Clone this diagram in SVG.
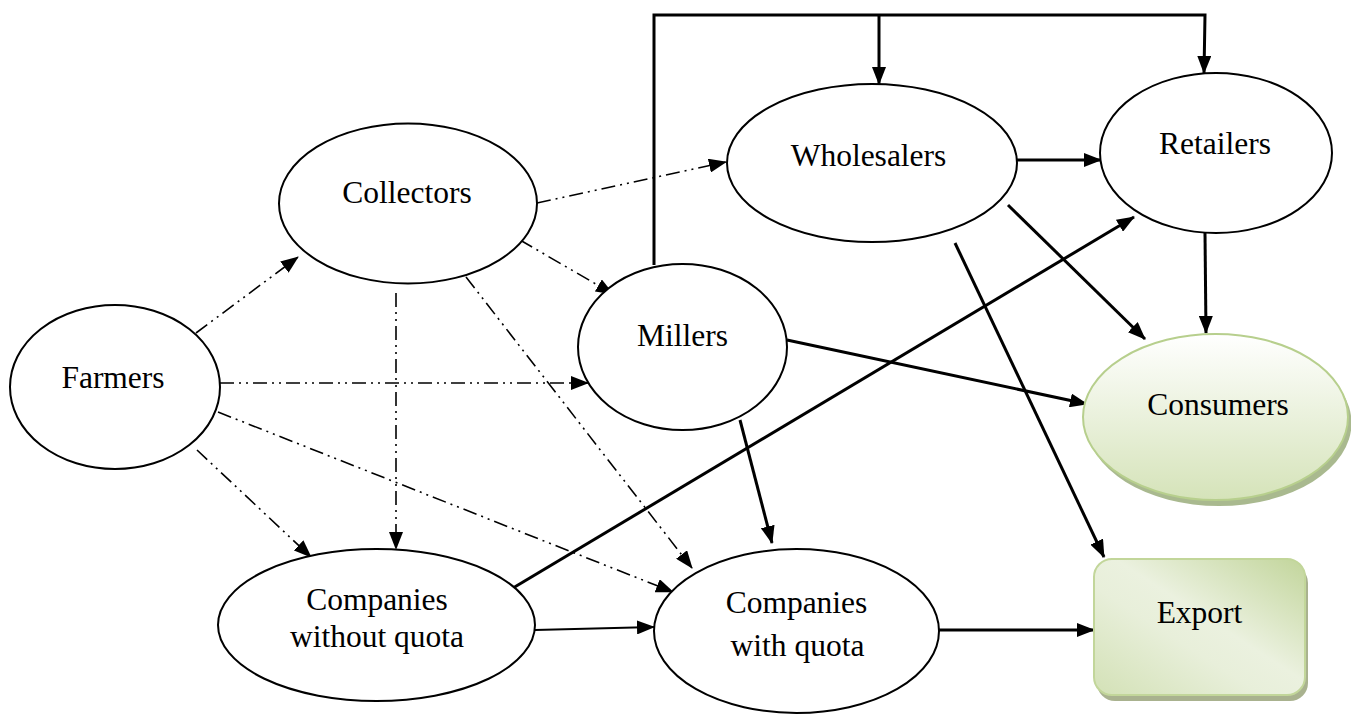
<svg xmlns="http://www.w3.org/2000/svg" width="1351" height="715" viewBox="0 0 1351 715">
  <style>
    .node { fill: #ffffff; stroke: #000000; stroke-width: 2; }
    .label { font-family: "Liberation Serif", "Times New Roman", serif; font-size: 31.5px; fill: #000000; text-anchor: middle; }
    .solid { fill: none; stroke: #000000; stroke-width: 3; }
    .thin { fill: none; stroke: #000000; stroke-width: 2; }
    .dash { fill: none; stroke: #000000; stroke-width: 1.6; stroke-dasharray: 14 5 2 5 2 5; }
  </style>
  <defs>
    <marker id="arrow" markerUnits="userSpaceOnUse" markerWidth="18" markerHeight="14" viewBox="0 0 18 14" refX="17" refY="7" orient="auto">
      <path d="M0,0 L18,7 L0,14 Z" fill="#000000"/>
    </marker>
    <linearGradient id="consumerFill" x1="0" y1="0" x2="0" y2="1">
      <stop offset="0" stop-color="#ffffff"/>
      <stop offset="1" stop-color="#d5e3b9"/>
    </linearGradient>
    <linearGradient id="exportFill" x1="1" y1="0" x2="0" y2="1">
      <stop offset="0" stop-color="#c2d59b"/>
      <stop offset="0.45" stop-color="#ebf1df"/>
      <stop offset="0.6" stop-color="#e8efda"/>
      <stop offset="1" stop-color="#d3e1b6"/>
    </linearGradient>
  </defs>

  <!-- connectors -->
  <g id="connectors">
    <!-- bracket from Millers over the top -->
    <polyline class="solid" points="654,265 654,15 1205,15 1204,73" marker-end="url(#arrow)"/>
    <line class="solid" x1="879" y1="15" x2="879" y2="84" marker-end="url(#arrow)"/>

    <line class="solid" x1="1017" y1="160" x2="1101" y2="160" marker-end="url(#arrow)"/>
    <line class="solid" x1="1008" y1="205" x2="1145" y2="339" marker-end="url(#arrow)"/>
    <line class="solid" x1="1205" y1="233" x2="1206" y2="333" marker-end="url(#arrow)"/>
    <line class="solid" x1="955" y1="243" x2="1104" y2="557" marker-end="url(#arrow)"/>
    <line class="solid" x1="787" y1="340" x2="1087" y2="404" marker-end="url(#arrow)"/>
    <line class="solid" x1="740" y1="420" x2="772" y2="543" marker-end="url(#arrow)"/>
    <line class="solid" x1="513" y1="588" x2="1134" y2="217" marker-end="url(#arrow)"/>
    <line class="thin" x1="535" y1="630" x2="654" y2="627" marker-end="url(#arrow)"/>
    <line class="solid" x1="939" y1="630" x2="1094" y2="630" marker-end="url(#arrow)"/>

    <!-- dash-dot-dot flows -->
    <line class="dash" x1="196" y1="333" x2="298" y2="257" marker-end="url(#arrow)"/>
    <line class="dash" x1="220" y1="383" x2="588" y2="383" marker-end="url(#arrow)"/>
    <line class="dash" x1="218" y1="412" x2="673" y2="592" marker-end="url(#arrow)"/>
    <line class="dash" x1="197" y1="450" x2="311" y2="557" marker-end="url(#arrow)"/>
    <line class="dash" x1="537" y1="203" x2="726" y2="162" marker-end="url(#arrow)"/>
    <line class="dash" x1="520" y1="240" x2="613" y2="294" marker-end="url(#arrow)"/>
    <line class="dash" x1="396" y1="293" x2="396" y2="549" marker-end="url(#arrow)"/>
    <line class="dash" x1="466" y1="277" x2="692" y2="568" marker-end="url(#arrow)"/>
  </g>

  <g id="farmers">
    <ellipse class="node" cx="115" cy="387" rx="105" ry="82"/>
    <text class="label" x="113" y="388">Farmers</text>
  </g>
  <g id="collectors">
    <ellipse class="node" cx="408" cy="203.5" rx="129" ry="80"/>
    <text class="label" x="407" y="203">Collectors</text>
  </g>
  <g id="wholesalers">
    <ellipse class="node" cx="872" cy="163" rx="145" ry="79"/>
    <text class="label" x="868.5" y="166">Wholesalers</text>
  </g>
  <g id="retailers">
    <ellipse class="node" cx="1216" cy="153" rx="116" ry="80"/>
    <text class="label" x="1215" y="154">Retailers</text>
  </g>
  <g id="millers">
    <ellipse class="node" cx="682.5" cy="347" rx="104.5" ry="83"/>
    <text class="label" x="682.5" y="346">Millers</text>
  </g>
  <g id="consumers">
    <ellipse cx="1219" cy="423" rx="132.5" ry="83" fill="#a9b98f"/>
    <ellipse cx="1215.5" cy="417" rx="132.5" ry="83" fill="url(#consumerFill)" stroke="#b7cf8d" stroke-width="2"/>
    <text class="label" x="1218" y="415">Consumers</text>
  </g>
  <g id="companies-without-quota">
    <ellipse class="node" cx="376.5" cy="625" rx="158.5" ry="76"/>
    <text class="label" x="377" y="610">Companies</text>
    <text class="label" x="377" y="647">without quota</text>
  </g>
  <g id="companies-with-quota">
    <ellipse class="node" cx="796.5" cy="631" rx="142.5" ry="82"/>
    <text class="label" x="796.5" y="613">Companies</text>
    <text class="label" x="797.5" y="656">with quota</text>
  </g>
  <g id="export">
    <rect x="1097" y="565" width="211" height="136" rx="18" fill="#a9b28f"/>
    <rect x="1094" y="559" width="211" height="136" rx="18" fill="url(#exportFill)" stroke="#c2d69a" stroke-width="2"/>
    <text class="label" x="1199.5" y="623">Export</text>
  </g>
</svg>
